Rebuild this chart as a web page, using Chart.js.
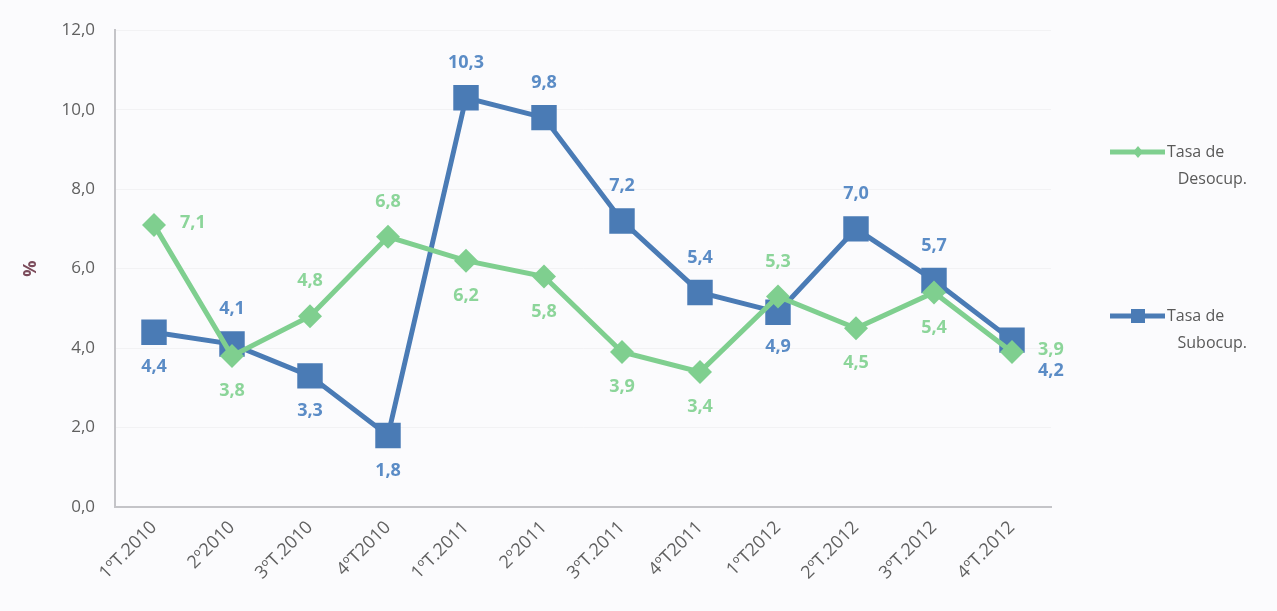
<!DOCTYPE html>
<html>
<head>
<meta charset="utf-8">
<script src="https://cdn.jsdelivr.net/npm/chart.js@4/dist/chart.umd.min.js"></script>
<style>
  html, body { margin: 0; padding: 0; background: #fbfbfd; }
  #wrap { width: 1277px; height: 611px; position: relative; }
</style>
</head>
<body>
<div id="wrap"><canvas id="lineChart" width="1277" height="611"></canvas></div>
<script>
// data
const quarters = ['1ºT.2010', '2º2010', '3ºT.2010', '4ºT2010', '1ºT.2011', '2º2011', '3ºT.2011', '4ºT2011', '1ºT2012', '2ºT.2012', '3ºT.2012', '4ºT.2012'];
const desocup = [7.1, 3.8, 4.8, 6.8, 6.2, 5.8, 3.9, 3.4, 5.3, 4.5, 5.4, 3.9];
const subocup = [4.4, 4.1, 3.3, 1.8, 10.3, 9.8, 7.2, 5.4, 4.9, 7.0, 5.7, 4.2];
const seriesNames = [['Tasa de', 'Desocup.'], ['Tasa de', 'Subocup.']];
const yTicks = [0, 2, 4, 6, 8, 10, 12];

// where each value label sits relative to its point
const desocupPos = ['right', 'bottom', 'top', 'top', 'bottom', 'bottom', 'bottom', 'bottom', 'top', 'bottom', 'bottom', 'right'];
const subocupPos = ['bottom', 'top', 'bottom', 'bottom', 'top', 'top', 'top', 'top', 'bottom', 'top', 'top', 'rightlow'];

const green = '#7fcf8f';
const blue = '#4a7bb5';
const fmt = v => v.toFixed(1).replace('.', ',');

const valueLabels = {
    id: 'valueLabels',
    afterDatasetsDraw(chart) {
        const ctx = chart.ctx;
        ctx.save();
        ctx.font = 'bold 18px "Open Sans", sans-serif';
        ctx.textBaseline = 'middle';
        chart.data.datasets.forEach((ds, i) => {
            const meta = chart.getDatasetMeta(i);
            const pos = i === 0 ? desocupPos : subocupPos;
            ctx.fillStyle = i === 0 ? '#8cd59a' : '#5b8cc6';
            meta.data.forEach((pt, j) => {
                let x = pt.x, y = pt.y;
                ctx.textAlign = 'center';
                if (pos[j] === 'top') y -= 35;
                else if (pos[j] === 'bottom') y += 35;
                else if (pos[j] === 'right') { x += 26; y -= 2; ctx.textAlign = 'left'; }
                else if (pos[j] === 'rightlow') { x += 26; y += 31; ctx.textAlign = 'left'; }
                ctx.fillText(fmt(ds.data[j]), x, y);
            });
        });
        ctx.restore();
    }
};

const sideLegend = {
    id: 'sideLegend',
    afterDraw(chart) {
        const ctx = chart.ctx;
        ctx.save();
        const items = [{ y: 152, color: green, shape: 'diamond' }, { y: 316, color: blue, shape: 'square' }];
        items.forEach((it, i) => {
            ctx.strokeStyle = it.color;
            ctx.fillStyle = it.color;
            ctx.lineWidth = 5;
            ctx.beginPath();
            ctx.moveTo(1110, it.y);
            ctx.lineTo(1165, it.y);
            ctx.stroke();
            if (it.shape === 'square') ctx.fillRect(1131, it.y - 7, 14, 14);
            else {
                ctx.beginPath();
                ctx.moveTo(1138, it.y - 6); ctx.lineTo(1143, it.y); ctx.lineTo(1138, it.y + 6); ctx.lineTo(1133, it.y);
                ctx.closePath(); ctx.fill();
            }
            ctx.fillStyle = '#595959';
            ctx.font = '16px "Open Sans", sans-serif';
            ctx.textBaseline = 'middle';
            ctx.textAlign = 'left';
            ctx.fillText(seriesNames[i][0], 1167, it.y);
            ctx.textAlign = 'right';
            ctx.fillText(seriesNames[i][1], 1247, it.y + 27);
        });
        ctx.restore();
    }
};

const ctx = document.getElementById('lineChart').getContext('2d');
const lineChart = new Chart(ctx, {
    type: 'line',
    data: {
        labels: quarters,
        datasets: [
            {
                label: 'Tasa de Desocup.',
                data: desocup,
                borderColor: green,
                backgroundColor: green,
                borderWidth: 5,
                pointStyle: 'rectRot',
                pointRadius: 12,
                pointBorderWidth: 0,
                tension: 0
            },
            {
                label: 'Tasa de Subocup.',
                data: subocup,
                borderColor: blue,
                backgroundColor: blue,
                borderWidth: 5,
                pointStyle: 'rect',
                pointRadius: 18,
                pointBorderWidth: 0,
                tension: 0
            }
        ]
    },
    options: {
        responsive: false,
        animation: false,
        layout: { padding: { top: 14, right: 226, left: 20, bottom: 0 } },
        scales: {
            x: {
                offset: true,
                grid: { display: false, drawTicks: false },
                border: { color: '#c4c4c8', width: 2 },
                afterFit: s => { s.height = 104; },
                ticks: {
                    color: '#606060',
                    font: { size: 18, family: '"Open Sans", sans-serif' },
                    minRotation: 45,
                    maxRotation: 45,
                    padding: 10
                }
            },
            y: {
                min: 0,
                max: 12,
                afterFit: s => { s.width = 95; },
                afterBuildTicks: s => { s.ticks = yTicks.map(v => ({ value: v })); },
                grid: { color: 'rgba(0,0,0,0.035)', drawTicks: false },
                border: { color: '#c4c4c8', width: 2 },
                title: {
                    display: true,
                    text: '%',
                    color: '#7a4a5a',
                    font: { size: 18, weight: 'bold', family: '"Open Sans", sans-serif' },
                    padding: { top: 0, bottom: 18 }
                },
                ticks: {
                    color: '#606060',
                    font: { size: 17, family: '"Open Sans", sans-serif' },
                    padding: 20,
                    callback: v => fmt(v)
                }
            }
        },
        plugins: {
            legend: { display: false },
            tooltip: { enabled: false }
        }
    },
    plugins: [valueLabels, sideLegend]
});
</script>
</body>
</html>
